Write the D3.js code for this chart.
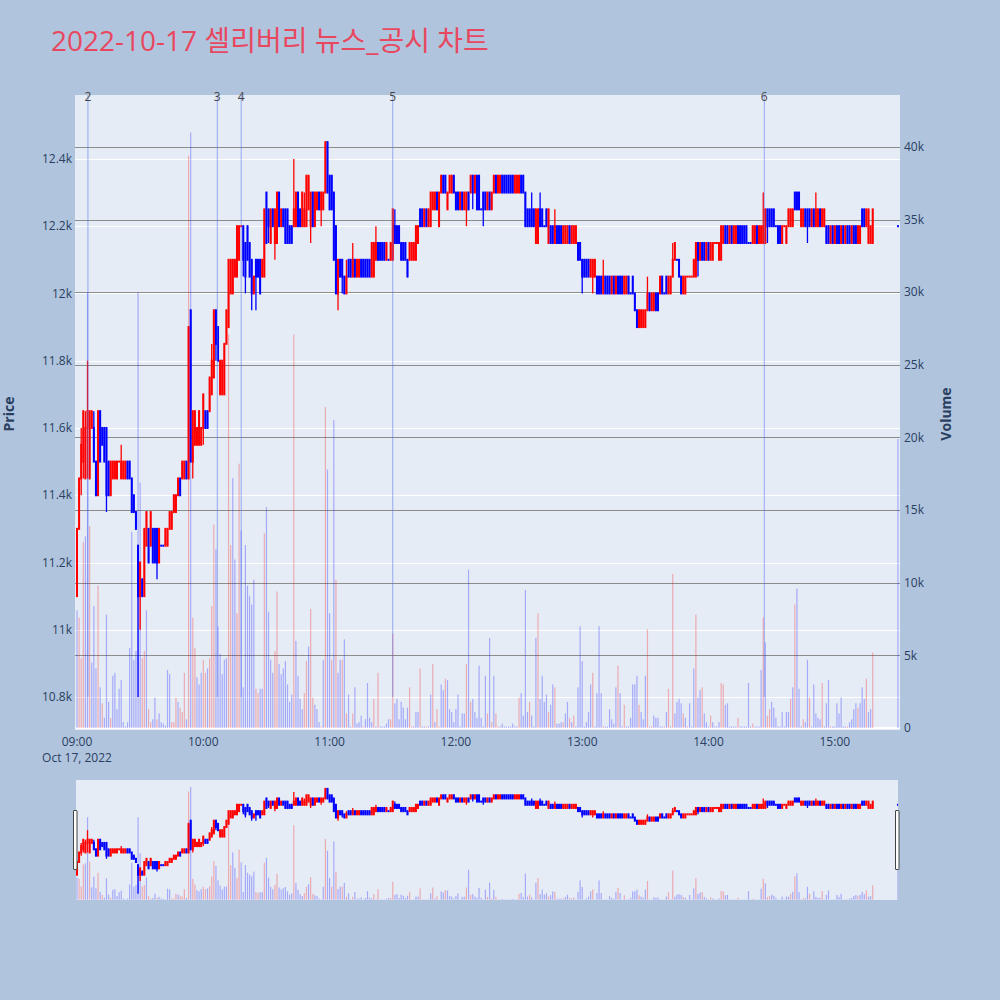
<!DOCTYPE html>
<html><head><meta charset="utf-8">
<script src="https://cdn.jsdelivr.net/npm/d3@7"></script>
<style>
html,body{margin:0;padding:0;background:#B0C4DE;}
svg{display:block;font-family:"Open Sans","Noto Sans CJK KR",sans-serif;}
</style></head><body>
<svg id="chart" width="1000" height="1000"></svg>
<script>
// ---------- DATA (1-minute candles from 09:00, plus closing auction at 15:30) ----------
const chartTitle = "2022-10-17 셀리버리 뉴스_공시 차트";
const sessionDate = [2022, 9, 17];          // Oct 17, 2022
const opens = [
11100,11300,11450,11500,11450,11600,11450,11600,11600,11500,
11400,11650,11600,11600,11600,11500,11400,11450,11450,11450,
11500,11450,11450,11450,11500,11500,11450,11400,11350,11250,
11100,11150,11100,11250,11300,11250,11300,11300,11300,11200,
11250,11250,11250,11250,11300,11300,11350,11350,11400,11450,
11450,11450,11500,11450,11950,11500,11550,11550,11550,11550,
11600,11650,11650,11650,11700,11750,11950,11900,11700,11700,
11700,11850,11900,12000,12000,12050,12050,12100,12200,12200,
12150,12200,12150,12100,12000,12100,12100,12100,12050,12050,
12300,12250,12150,12250,12150,12150,12300,12200,12250,12250,
12250,12200,12200,12200,12200,12300,12250,12200,12200,12200,
12250,12200,12300,12200,12250,12300,12250,12250,12300,12450,
12350,12350,12300,12200,12000,12100,12100,12050,12000,12100,
12100,12050,12100,12050,12050,12100,12100,12100,12100,12100,
12050,12050,12100,12150,12150,12150,12150,12100,12100,12100,
12100,12200,12200,12200,12150,12150,12150,12100,12100,12100,
12100,12100,12150,12250,12250,12200,12250,12200,12200,12250,
12250,12300,12200,12300,12350,12350,12250,12300,12300,12350,
12300,12300,12250,12300,12250,12250,12300,12300,12350,12300,
12350,12350,12250,12300,12300,12250,12300,12250,12300,12350,
12300,12300,12350,12350,12350,12350,12350,12350,12300,12300,
12300,12350,12350,12300,12250,12250,12250,12250,12150,12150,
12250,12250,12200,12250,12150,12200,12200,12150,12200,12200,
12200,12150,12150,12150,12200,12150,12150,12150,12150,12150,
12100,12100,12100,12100,12050,12050,12050,12050,12050,12050,
12000,12050,12050,12050,12000,12050,12000,12050,12050,12050,
12000,12000,12050,12000,12050,12000,11950,11900,11900,11900,
11900,11950,12000,11950,11950,12000,12000,12000,12050,12000,
12050,12000,12000,12050,12100,12100,12100,12050,12000,12000,
12050,12050,12050,12050,12050,12150,12100,12150,12150,12100,
12150,12100,12100,12150,12150,12100,12100,12150,12200,12200,
12150,12200,12150,12150,12200,12200,12200,12200,12200,12150,
12150,12150,12150,12200,12150,12150,12150,12150,12250,12250,
12250,12250,12200,12200,12200,12150,12200,12150,12200,12200,
12200,12300,12300,12300,12200,12200,12250,12250,12250,12200,
12250,12200,12200,12250,12200,12200,12200,12200,12150,12200,
12150,12200,12200,12150,12200,12150,12200,12200,12150,12200,
12200,12150,12150,12250,12250,12200,12150,12150,12150];
const highs = [
11300,11450,11600,11650,11650,11800,11650,11650,11650,11500,
11650,11650,11600,11600,11600,11500,11500,11500,11500,11500,
11500,11550,11500,11500,11500,11500,11450,11400,11350,11250,
11200,11150,11300,11350,11300,11350,11300,11300,11300,11300,
11250,11250,11300,11300,11350,11350,11400,11400,11450,11450,
11500,11500,11500,11900,11950,11650,11650,11600,11650,11600,
11700,11650,11650,11750,11850,11950,11950,11900,11800,11800,
11850,11950,12100,12100,12100,12100,12200,12200,12200,12200,
12150,12200,12150,12100,12050,12100,12100,12100,12100,12250,
12300,12250,12250,12250,12250,12300,12300,12250,12250,12250,
12250,12200,12200,12400,12300,12300,12250,12300,12300,12350,
12350,12300,12300,12300,12300,12300,12300,12300,12450,12450,
12350,12350,12300,12200,12100,12100,12100,12050,12100,12100,
12100,12150,12100,12100,12100,12100,12100,12100,12100,12100,
12150,12150,12200,12150,12150,12150,12150,12150,12100,12150,
12250,12250,12200,12200,12150,12150,12150,12100,12150,12150,
12150,12200,12200,12250,12250,12250,12250,12250,12300,12300,
12300,12300,12300,12350,12350,12350,12300,12350,12350,12350,
12300,12300,12300,12300,12300,12300,12300,12350,12350,12350,
12350,12350,12250,12300,12300,12300,12300,12300,12350,12350,
12350,12350,12350,12350,12350,12350,12350,12350,12350,12350,
12350,12350,12350,12300,12250,12250,12300,12250,12250,12250,
12300,12250,12200,12250,12250,12200,12200,12250,12200,12200,
12200,12200,12200,12200,12200,12200,12200,12200,12150,12150,
12100,12100,12100,12100,12100,12100,12100,12050,12050,12050,
12100,12050,12050,12050,12050,12050,12050,12050,12050,12050,
12050,12050,12050,12000,12050,12000,11950,11950,11950,11950,
11950,12050,12000,12000,12000,12000,12000,12050,12050,12000,
12050,12050,12050,12150,12150,12100,12100,12050,12050,12050,
12050,12050,12050,12100,12150,12150,12150,12150,12150,12150,
12150,12150,12150,12150,12150,12150,12200,12200,12200,12200,
12200,12200,12200,12200,12200,12200,12200,12200,12200,12150,
12150,12200,12200,12200,12200,12200,12300,12250,12250,12250,
12250,12250,12200,12200,12200,12200,12200,12200,12250,12250,
12250,12300,12300,12300,12250,12250,12250,12250,12250,12250,
12250,12300,12250,12250,12250,12250,12200,12200,12200,12200,
12200,12200,12200,12200,12200,12200,12200,12200,12200,12200,
12200,12200,12200,12250,12250,12250,12250,12200,12250];
const lows = [
11100,11300,11400,11450,11450,11450,11450,11600,11500,11400,
11400,11500,11550,11500,11350,11400,11400,11450,11450,11450,
11500,11450,11450,11450,11450,11450,11350,11350,11300,10800,
11000,11100,11100,11250,11200,11250,11200,11200,11150,11200,
11250,11250,11250,11250,11300,11300,11350,11350,11400,11400,
11450,11450,11450,11450,11500,11450,11550,11550,11550,11550,
11550,11600,11600,11650,11700,11750,11800,11800,11700,11700,
11700,11850,11900,12000,12000,12050,12050,12100,12200,12050,
12000,12100,12050,11950,12000,11950,12050,12000,12050,12050,
12150,12150,12150,12200,12100,12150,12200,12200,12200,12150,
12150,12150,12150,12200,12200,12200,12200,12200,12200,12200,
12250,12150,12200,12200,12250,12250,12200,12250,12300,12300,
12250,12250,12100,12000,11950,12050,12000,12000,12000,12050,
12050,12050,12050,12050,12050,12050,12050,12050,12050,12050,
12050,12050,12100,12100,12100,12100,12100,12100,12100,12100,
12100,12150,12150,12150,12100,12100,12100,12050,12100,12100,
12100,12100,12150,12200,12200,12200,12200,12200,12200,12250,
12250,12250,12200,12300,12300,12300,12250,12300,12300,12300,
12250,12250,12250,12250,12250,12200,12250,12300,12250,12300,
12250,12250,12250,12200,12250,12250,12250,12250,12300,12300,
12300,12300,12300,12300,12300,12300,12300,12300,12300,12300,
12300,12300,12300,12200,12200,12200,12200,12200,12150,12150,
12200,12200,12200,12200,12150,12150,12150,12150,12150,12150,
12150,12150,12150,12150,12150,12150,12150,12150,12100,12100,
12000,12050,12050,12050,12050,12000,12050,12000,12000,12000,
12000,12000,12000,12000,12000,12000,12000,12000,12000,12000,
12000,12000,12000,12000,12000,11950,11900,11900,11900,11900,
11900,11950,11950,11950,11950,11950,11950,12000,12000,12000,
12000,12000,12000,12050,12100,12100,12050,12000,12000,12000,
12050,12050,12050,12050,12050,12050,12100,12100,12100,12100,
12100,12100,12100,12150,12150,12100,12100,12150,12150,12150,
12150,12150,12150,12150,12150,12150,12150,12150,12150,12150,
12150,12150,12150,12150,12150,12150,12150,12150,12150,12200,
12200,12200,12200,12150,12150,12150,12200,12150,12200,12200,
12200,12250,12250,12250,12200,12200,12200,12150,12200,12200,
12200,12200,12200,12200,12200,12200,12150,12150,12150,12150,
12150,12150,12150,12150,12150,12150,12150,12150,12150,12150,
12150,12150,12150,12200,12200,12200,12150,12150,12150];
const closes = [
11300,11450,11550,11650,11600,11650,11650,11650,11500,11400,
11650,11500,11550,11500,11400,11400,11500,11500,11500,11500,
11500,11500,11500,11500,11450,11450,11350,11350,11300,11100,
11200,11100,11300,11350,11200,11350,11200,11200,11200,11300,
11250,11250,11300,11300,11350,11350,11400,11400,11450,11400,
11500,11500,11450,11900,11500,11650,11650,11600,11650,11600,
11700,11600,11600,11750,11800,11950,11850,11800,11800,11800,
11850,11950,12100,12100,12100,12100,12200,12200,12200,12100,
12050,12100,12050,12000,12050,12050,12050,12000,12100,12250,
12150,12200,12250,12200,12250,12300,12200,12250,12200,12150,
12150,12150,12150,12250,12300,12200,12200,12300,12250,12350,
12350,12300,12200,12300,12300,12250,12300,12300,12450,12300,
12250,12250,12100,12000,12100,12050,12050,12000,12050,12050,
12050,12100,12050,12100,12100,12050,12050,12050,12050,12050,
12150,12150,12150,12100,12100,12100,12100,12150,12100,12150,
12250,12150,12150,12150,12100,12100,12100,12050,12150,12150,
12150,12200,12200,12200,12200,12250,12200,12250,12300,12300,
12300,12250,12300,12350,12300,12300,12300,12350,12350,12300,
12250,12250,12300,12250,12300,12300,12250,12350,12300,12350,
12250,12250,12250,12250,12250,12300,12250,12300,12350,12300,
12350,12350,12300,12300,12300,12300,12300,12300,12350,12350,
12350,12300,12300,12200,12200,12200,12200,12200,12250,12250,
12200,12200,12200,12200,12250,12150,12150,12200,12150,12150,
12150,12200,12200,12200,12150,12200,12200,12200,12100,12100,
12050,12050,12050,12050,12100,12100,12100,12000,12000,12000,
12050,12000,12000,12000,12050,12000,12050,12000,12000,12000,
12050,12050,12000,12000,12000,11950,11900,11950,11950,11950,
11950,12000,11950,12000,12000,11950,11950,12050,12000,12000,
12000,12050,12050,12100,12150,12100,12050,12000,12050,12050,
12050,12050,12050,12100,12150,12100,12150,12100,12100,12150,
12100,12150,12150,12150,12150,12150,12200,12200,12150,12150,
12200,12150,12200,12200,12150,12150,12150,12150,12150,12150,
12150,12200,12200,12150,12200,12200,12200,12250,12200,12200,
12200,12200,12200,12150,12150,12200,12200,12200,12250,12250,
12250,12250,12250,12250,12250,12250,12200,12200,12200,12250,
12200,12250,12250,12200,12250,12250,12150,12150,12200,12150,
12200,12150,12150,12200,12150,12200,12150,12150,12200,12150,
12150,12200,12200,12200,12200,12250,12250,12200,12250];
const volumes = [
8100,7600,4800,12800,13200,30000,13900,4500,8400,4100,
9800,2800,1700,700,7800,1800,700,3600,3800,1300,
2700,3300,400,100,400,5500,13500,4700,5300,30000,
16900,4800,5300,8100,1300,400,600,2100,600,1000,
400,300,150,4000,3700,400,400,2100,1800,1400,
1100,3800,600,39400,41000,7600,5500,3500,3000,3800,
4700,3800,4100,4800,8400,14000,12300,7000,5100,3700,
4700,4800,27100,12600,17200,11600,7900,18200,13600,2800,
12600,9800,9100,8500,10200,2700,2400,2700,2700,13400,
15200,8000,4700,3800,5300,9400,4400,3700,4100,4600,
3000,1800,2300,27100,6000,3600,2000,1300,2400,4600,
5600,8200,2100,1600,1300,400,100,4700,22100,17800,
7900,4700,21200,10200,3800,4700,4700,6100,1000,2300,
100,1000,2800,300,400,850,100,600,3100,700,
400,2000,100,3800,100,100,100,300,600,600,
6500,1700,2000,600,1800,1400,600,1400,2800,100,
100,1100,1100,4100,100,100,100,100,2300,4400,
400,1300,100,3000,2600,3400,3300,1300,1100,400,
1300,2300,100,1000,1000,4400,10900,1800,2000,1100,
700,4300,700,100,3600,1000,6200,400,3600,1000,
100,100,300,100,100,100,100,300,100,100,
2100,2400,850,9500,1100,1800,850,100,6200,7900,
2000,3600,1800,2300,1100,1600,3000,2800,300,300,
400,400,1000,1800,700,400,850,100,2800,7000,
4600,100,400,1100,3000,3800,100,2400,7000,2400,
100,100,100,1300,600,300,2800,4300,2400,100,
1600,100,100,700,3000,3000,3600,1600,1100,600,
3600,6800,100,100,850,700,700,100,100,100,
1100,2700,100,10600,1000,1800,2000,1700,1000,700,
100,1700,100,4100,7800,2100,2600,2800,1000,400,
100,850,400,100,100,400,3100,3000,1600,1700,
100,100,100,100,700,100,100,100,100,3100,
100,300,100,100,100,4000,7600,5900,850,1300,
1800,1400,700,100,100,1100,100,1100,1100,2000,
2800,8500,9600,2700,100,600,400,4700,2100,100,
3000,1000,700,600,3100,100,1700,3300,100,100,
100,1700,1000,2100,100,100,100,400,600,1300,
1700,1400,1700,2800,2000,3400,1100,1300,5200];
// 1 = rising (red) volume bar, 0 = falling (blue)
const volumeUp = [
0,1,1,1,0,0,1,0,0,0, 1,0,1,0,0,0,1,0,0,0, 0,0,0,0,0,0,0,0,0,0,
0,1,1,0,1,1,0,0,1,0, 0,0,0,0,0,1,1,1,0,1, 1,1,0,1,0,1,1,0,0,0,
1,1,0,1,1,1,0,0,0,0, 0,0,1,1,0,0,1,1,0,0, 0,0,0,0,0,1,1,0,0,1,
0,0,0,0,1,1,0,0,0,0, 0,0,0,1,0,0,0,0,1,1, 0,1,1,0,0,0,1,0,1,0,
0,1,0,1,0,0,1,0,1,0, 0,1,0,0,0,0,1,0,0,0, 0,1,0,1,0,0,0,0,0,1,
1,0,0,0,0,0,0,0,1,1, 0,0,0,1,0,0,1,0,0,1, 0,1,1,0,0,1,0,0,0,0,
0,0,0,0,0,1,0,1,0,0, 0,0,0,0,0,1,0,1,0,1, 1,0,0,0,0,0,0,0,0,0,
1,0,0,0,0,1,0,0,0,1, 0,0,0,0,1,0,0,1,0,0, 0,1,0,0,1,0,1,0,0,0,
0,0,0,0,0,1,0,0,0,0, 1,0,0,0,0,0,0,1,0,0, 1,0,0,0,0,0,0,1,0,0,
0,1,0,1,0,0,0,0,0,1, 0,1,0,1,0,0,0,0,1,0, 1,0,0,0,1,0,0,1,0,0,
0,1,0,0,0,0,1,1,0,0, 0,0,0,0,1,0,0,0,0,0, 0,1,0,0,0,0,1,0,1,1,
0,0,0,0,0,0,0,0,0,1, 0,1,0,0,0,1,0,0,1,0, 0,0,0,0,1,0,0,0,1,0,
0,0,0,0,0,0,1,0,0,0, 0,1,0,0,0,1,0,0,1];
// closing single-price auction
const auctionTime = [15, 30];
const auctionOHLC = [12200, 12200, 12200, 12200];
const auctionVolume = 19900;
const auctionUp = 0;
// news / disclosure markers
const eventLabels = ["2", "3", "4", "5", "6"];
const eventTimes = ["09:05:12", "10:06:39", "10:18:00", "11:30:00", "14:26:30"];
// axes
const priceTicks = [10800, 11000, 11200, 11400, 11600, 11800, 12000, 12200, 12400];
const priceTickLabels = ["10.8k", "11k", "11.2k", "11.4k", "11.6k", "11.8k", "12k", "12.2k", "12.4k"];
const volumeTicks = [0, 5000, 10000, 15000, 20000, 25000, 30000, 35000, 40000];
const volumeTickLabels = ["0", "5k", "10k", "15k", "20k", "25k", "30k", "35k", "40k"];
const timeTickLabels = ["09:00", "10:00", "11:00", "12:00", "13:00", "14:00", "15:00"];
const dateLabel = "Oct 17, 2022";

// ---------- build records ----------
const [Y, M, D] = sessionDate;
const candles = opens.map((o, i) => ({
  t: new Date(Y, M, D, 9, i), o, h: highs[i], l: lows[i], c: closes[i],
  v: volumes[i], vu: volumeUp[i]
}));
candles.push({
  t: new Date(Y, M, D, auctionTime[0], auctionTime[1]),
  o: auctionOHLC[0], h: auctionOHLC[1], l: auctionOHLC[2], c: auctionOHLC[3],
  v: auctionVolume, vu: auctionUp
});
// plotly-style direction: flat candles compare with previous close
let prevC = null, inc = true;
candles.forEach(d => {
  if (d.c === d.o) { if (prevC !== null && d.c !== prevC) inc = d.c > prevC; }
  else inc = d.c > d.o;
  d.inc = inc; prevC = d.c;
});

// ---------- layout ----------
const svg = d3.select("#chart");
const L = 75, R = 900, T = 95, B = 730;
const ST = 780, SB = 900;
const UP = "#ff0000", DOWN = "#0000ff";
const FONT_C = "#2a3f5f";

const x = d3.scaleTime()
  .domain([new Date(Y, M, D, 8, 59, 3), new Date(Y, M, D, 15, 30, 58)])
  .range([L, R]);
const yP = d3.scaleLinear().domain([10702, 12590]).range([B, T]);
const yV = d3.scaleLinear().domain([-138, 43580]).range([B, T]);
const yPs = d3.scaleLinear().domain([10702, 12590]).range([SB, ST]);
const yVs = d3.scaleLinear().domain([-138, 43580]).range([SB, ST]);

// title
svg.append("text").attr("x", 51).attr("y", 51)
  .attr("font-size", 28).attr("fill", "#e8485f").text(chartTitle);

// plot background
svg.append("rect").attr("x", L).attr("y", T).attr("width", R - L).attr("height", B - T)
  .attr("fill", "#E5ECF6");

// price grid (white)
svg.append("g").selectAll("line").data(priceTicks).join("line")
  .attr("x1", L).attr("x2", R)
  .attr("y1", d => Math.round(yP(d)) + 0.5).attr("y2", d => Math.round(yP(d)) + 0.5)
  .attr("stroke", "#ffffff").attr("stroke-width", 1);
// volume grid (gray)
svg.append("g").selectAll("line").data(volumeTicks.filter(v => v > 0)).join("line")
  .attr("x1", L).attr("x2", R)
  .attr("y1", d => Math.round(yV(d)) + 0.5).attr("y2", d => Math.round(yV(d)) + 0.5)
  .attr("stroke", "#8c8c8c").attr("stroke-width", 1);
svg.append("line").attr("x1", L).attr("x2", R)
  .attr("y1", yV(0)).attr("y2", yV(0)).attr("stroke", "#ffffff").attr("stroke-width", 2);

function drawVolume(g, ys) {
  g.selectAll("rect").data(candles).join("rect")
    .attr("x", d => x(d.t) - 0.6).attr("width", 1.2)
    .attr("y", d => ys(d.v)).attr("height", d => Math.max(0, ys(0) - ys(d.v)))
    .attr("fill", d => d.vu ? UP : DOWN).attr("fill-opacity", 0.28);
}
function drawCandles(g, ys) {
  const c = g.selectAll("g").data(candles).join("g");
  c.append("line")
    .attr("x1", d => x(d.t)).attr("x2", d => x(d.t))
    .attr("y1", d => ys(d.h)).attr("y2", d => ys(d.l))
    .attr("stroke", d => d.inc ? UP : DOWN).attr("stroke-width", 1.3);
  c.append("rect")
    .attr("x", d => x(d.t) - 1).attr("width", 2)
    .attr("y", d => ys(Math.max(d.o, d.c)) - 1)
    .attr("height", d => ys(Math.min(d.o, d.c)) - ys(Math.max(d.o, d.c)) + 2)
    .attr("fill", d => d.inc ? UP : DOWN);
}

const clipMain = svg.append("defs").append("clipPath").attr("id", "clipMain");
clipMain.append("rect").attr("x", L).attr("y", T).attr("width", R - L).attr("height", B - T);

const plot = svg.append("g").attr("clip-path", "url(#clipMain)");
drawVolume(plot.append("g"), yV);
drawCandles(plot.append("g"), yP);

// event lines
const parseT = s => { const [h, m, sec] = s.split(":").map(Number); return new Date(Y, M, D, h, m, sec); };
const ev = svg.append("g");
eventTimes.forEach((s, i) => {
  const ex = x(parseT(s));
  ev.append("line").attr("x1", ex).attr("x2", ex).attr("y1", T).attr("y2", yP(10800))
    .attr("stroke", "rgba(80,110,235,0.55)").attr("stroke-width", 1);
  ev.append("text").attr("x", ex).attr("y", 101).attr("text-anchor", "middle")
    .attr("font-size", 12).attr("fill", "#444").text(eventLabels[i]);
});

// axis labels
const ax = svg.append("g").attr("font-size", 12).attr("fill", FONT_C);
priceTicks.forEach((p, i) => {
  ax.append("text").attr("x", 72).attr("y", yP(p)).attr("dy", "0.35em")
    .attr("text-anchor", "end").text(priceTickLabels[i]);
});
volumeTicks.forEach((v, i) => {
  ax.append("text").attr("x", 904).attr("y", yV(v)).attr("dy", "0.35em")
    .attr("text-anchor", "start").text(volumeTickLabels[i]);
});
timeTickLabels.forEach(s => {
  const [h, m] = s.split(":").map(Number);
  ax.append("text").attr("x", x(new Date(Y, M, D, h, m))).attr("y", 746)
    .attr("text-anchor", "middle").text(s);
});
ax.append("text").attr("x", x(new Date(Y, M, D, 9, 0))).attr("y", 762)
  .attr("text-anchor", "middle").text(dateLabel);

svg.append("text").attr("transform", "translate(14,414) rotate(-90)")
  .attr("text-anchor", "middle").attr("font-size", 14).attr("font-weight", "bold")
  .attr("fill", FONT_C).text("Price");
svg.append("text").attr("transform", "translate(951,414) rotate(-90)")
  .attr("text-anchor", "middle").attr("font-size", 14).attr("font-weight", "bold")
  .attr("fill", FONT_C).text("Volume");

// range slider
svg.append("rect").attr("x", L + 1).attr("y", ST).attr("width", R - L - 3).attr("height", SB - ST)
  .attr("fill", "#E5ECF6");
const clipS = svg.select("defs").append("clipPath").attr("id", "clipS");
clipS.append("rect").attr("x", L + 1).attr("y", ST).attr("width", R - L - 3).attr("height", SB - ST);
const sl = svg.append("g").attr("clip-path", "url(#clipS)");
drawVolume(sl.append("g"), yVs);
drawCandles(sl.append("g"), yPs);
[[73.5, 810.5], [895.5, 810.5]].forEach(([hx, hy]) => {
  svg.append("rect").attr("x", hx).attr("y", hy).attr("width", 3.5).attr("height", 59)
    .attr("fill", "#ffffff").attr("stroke", "#444").attr("stroke-width", 1).attr("rx", 0.5);
});
</script>
</body></html>
